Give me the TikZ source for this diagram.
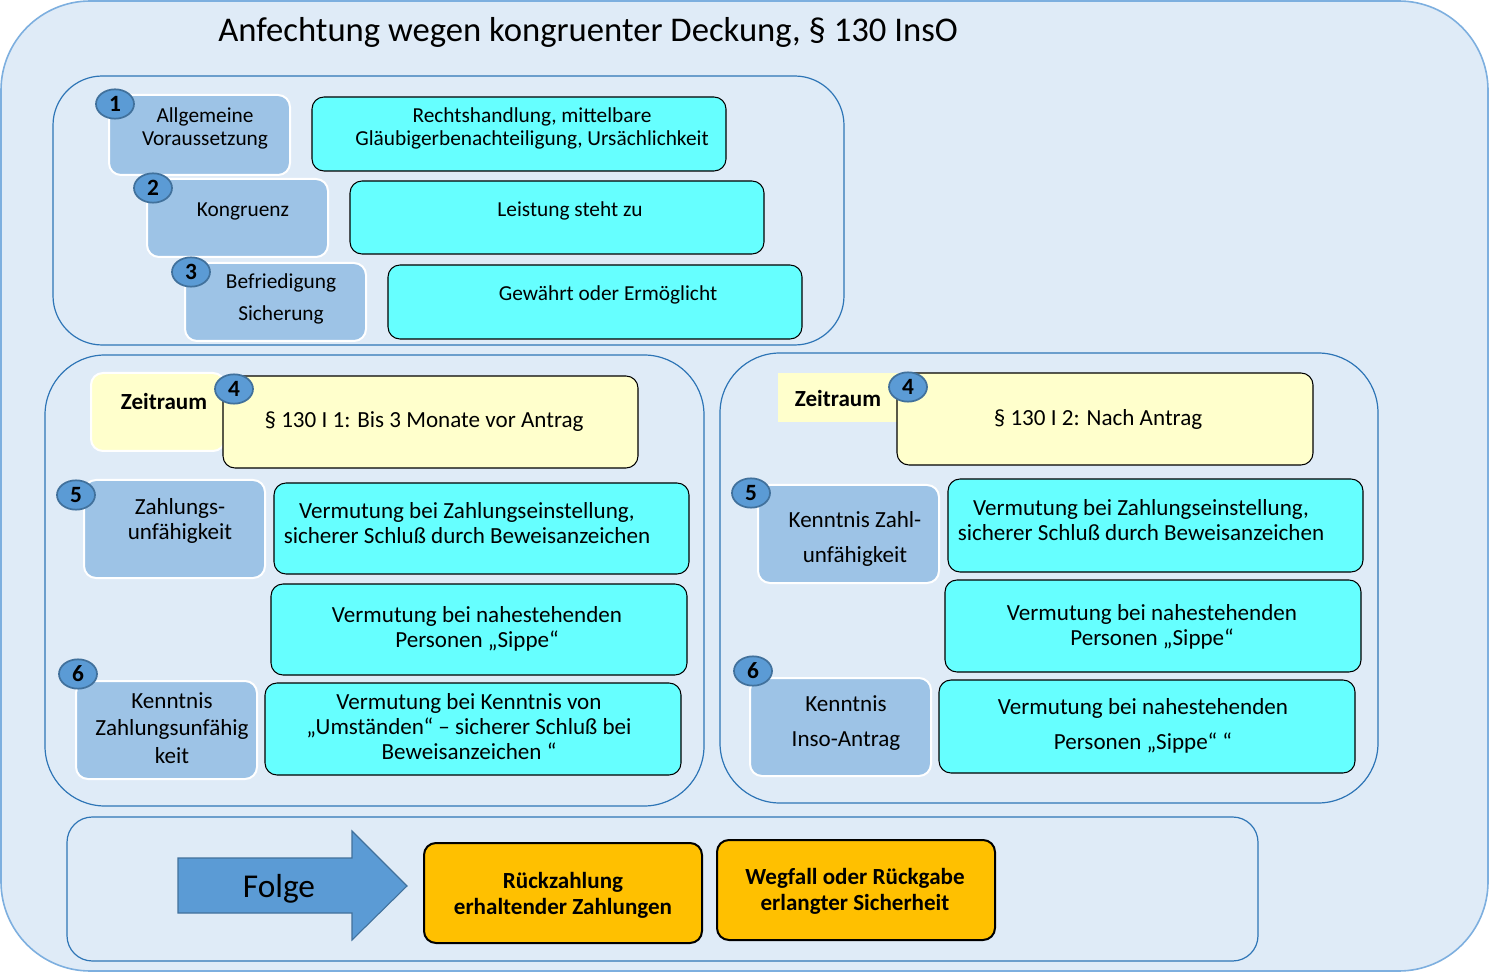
\documentclass[tikz,border=0pt]{standalone}
\usepackage{fontspec}
\setmainfont{Carlito}
\usetikzlibrary{shapes.geometric,fit}
\definecolor{bgc}{HTML}{DFEBF7}
\definecolor{outerline}{HTML}{7DAFDF}
\definecolor{panelline}{HTML}{2E75B6}
\definecolor{gboxc}{HTML}{9DC3E6}
\definecolor{cyanc}{HTML}{66FFFF}
\definecolor{yellowc}{HTML}{FFFFCC}
\definecolor{numc}{HTML}{5B9BD5}
\definecolor{numline}{HTML}{41719C}
\definecolor{orangec}{HTML}{FFC000}
\tikzset{
  outerbg/.style={fill=bgc,draw=outerline,line width=1.2pt,rounded corners=67pt},
  panel/.style={draw=panelline,line width=0.9pt,inner sep=0pt,outer sep=0pt},
  gbox/.style={fill=gboxc,draw=white,line width=1.5pt,rounded corners=9pt,inner sep=0pt},
  cbox/.style={fill=cyanc,draw=black,line width=0.8pt,rounded corners=9pt,inner sep=0pt},
  ybox/.style={fill=yellowc,draw=black,line width=0.8pt,rounded corners=9pt,inner sep=0pt},
  zbox/.style={fill=yellowc,draw=white,line width=1.5pt,rounded corners=9pt,inner sep=0pt},
  zsq/.style={fill=yellowc,draw=none,inner sep=0pt},
  obox/.style={fill=orangec,draw=black,line width=1.5pt,rounded corners=9pt,inner sep=0pt},
  num/.style={ellipse,fill=numc,draw=numline,line width=1.3pt,minimum width=28.5pt,minimum height=22pt,inner sep=0pt,font=\fontsize{17.5}{17.5}\bfseries\selectfont},
  txtu/.style={align=center,inner sep=0pt,font=\fontsize{16}{17.3}\selectfont},
  txtl/.style={align=center,inner sep=0pt,font=\fontsize{17.3}{18.8}\selectfont},
  txtb/.style={align=center,inner sep=0pt,font=\fontsize{17.3}{19.5}\bfseries\selectfont},
  arrowc/.style={fill=numc,draw=numline,line width=0.8pt},
}
\begin{document}
\begin{tikzpicture}[x=0.75pt,y=-0.75pt]
\useasboundingbox (0,0) rectangle (1489,973);
% outer background
\node[outerbg,fit={(1,1) (1488,971)},inner sep=0pt] (outer) {};
\node[font=\fontsize{26}{28}\selectfont,inner sep=0pt] (title) at (588,32) {Anfechtung wegen kongruenter Deckung, § 130 InsO};

% panels
\node[panel,rounded corners=37pt,fit={(53,76) (844,345)}] (p1) {};
\node[panel,rounded corners=45pt,fit={(45,355) (704,806)}] (p2) {};
\node[panel,rounded corners=45pt,fit={(720,353) (1378,803)}] (p3) {};
\node[panel,rounded corners=19pt,fit={(67,817) (1258,961)}] (p4) {};

% ---- panel 1
\node[gbox,fit={(109,95) (290,175)}] (g1) {};
\node[gbox,fit={(147,179) (328,257)}] (g2) {};
\node[gbox,fit={(185,263) (366,341)}] (g3) {};
\node[txtu] (g1t) at (205,128) {Allgemeine\\Voraussetzung};
\node[txtu] (g2t) at (243,211) {Kongruenz};
\node[txtu] (g3t) at (281,299) {Befriedigung\\[6.5pt]Sicherung};
\node[cbox,fit={(312,97) (726,171)}] (c1) {};
\node[cbox,fit={(350,181) (764,254)}] (c2) {};
\node[cbox,fit={(388,265) (802,339)}] (c3) {};
\node[txtu] (c1t) at (532,128) {Rechtshandlung, mittelbare\\Gläubigerbenachteiligung, Ursächlichkeit};
\node[txtu] (c2t) at (570,211) {Leistung steht zu};
\node[txtu] (c3t) at (608,295) {Gewährt oder Ermöglicht};
\node[num] (n1) at (115,104) {1};
\node[num] (n2) at (153,188) {2};
\node[num] (n3) at (191,272) {3};

% ---- panel 2 (left)
\node[zbox,fit={(91,373) (225,451)}] (zl) {};
\node[ybox,fit={(223,376) (638,468)}] (yl) {};
\node[txtb] (zlt) at (164,401) {Zeitraum};
\node[txtl] (ylt) at (424,422) {§ 130 I 1: Bis 3 Monate vor Antrag};
\node[num] (n4l) at (234,389) {4};
\node[gbox,fit={(84,480) (265,578)}] (g5l) {};
\node[txtl] (g5lt) at (180,521) {Zahlungs-\\unfähigkeit};
\node[cbox,fit={(274,483) (689,574)}] (c5l) {};
\node[txtl] (c5lt) at (467,523) {Vermutung bei Zahlungseinstellung,\\sicherer Schluß durch Beweisanzeichen};
\node[cbox,fit={(271,584) (687,675)}] (c5l2) {};
\node[txtl] (c5l2t) at (477,629) {Vermutung bei nahestehenden\\Personen „Sippe“};
\node[num] (n5l) at (76,495) {5};
\node[gbox,fit={(76,681) (257,779)}] (g6l) {};
\node[txtl,font=\fontsize{17.3}{20.5}\selectfont] (g6lt) at (172,728) {Kenntnis\\Zahlungsunfähig\\keit};
\node[cbox,fit={(265,683) (681,775)}] (c6l) {};
\node[txtl] (c6lt) at (469,727) {Vermutung bei Kenntnis von\\„Umständen“ – sicherer Schluß bei\\Beweisanzeichen “};
\node[num] (n6l) at (78,674) {6};

% ---- panel 3 (right)
\node[zsq,fit={(778,373) (900,422)}] (zr) {};
\node[ybox,fit={(897,373) (1313,465)}] (yr) {};
\node[txtb] (zrt) at (838,398) {Zeitraum};
\node[txtl] (yrt) at (1098,419) {§ 130 I 2: Nach Antrag};
\node[num] (n4r) at (908,387) {4};
\node[gbox,fit={(758,485) (939,583)}] (g5r) {};
\node[txtl] (g5rt) at (855,539) {Kenntnis Zahl-\\[7.5pt]unfähigkeit};
\node[cbox,fit={(948,479) (1363,572)}] (c5r) {};
\node[txtl] (c5rt) at (1141,520) {Vermutung bei Zahlungseinstellung,\\sicherer Schluß durch Beweisanzeichen};
\node[cbox,fit={(945,580) (1361,672)}] (c5r2) {};
\node[txtl] (c5r2t) at (1152,627) {Vermutung bei nahestehenden\\Personen „Sippe“};
\node[num] (n5r) at (751,493) {5};
\node[gbox,fit={(750,678) (931,776)}] (g6r) {};
\node[txtl] (g6rt) at (846,723) {Kenntnis\\[7.5pt]Inso-Antrag};
\node[cbox,fit={(939,680) (1355,773)}] (c6r) {};
\node[txtl] (c6rt) at (1143,726) {Vermutung bei nahestehenden\\[7.5pt]Personen „Sippe“ “};
\node[num] (n6r) at (753,671) {6};

% ---- panel 4 (bottom)
\draw[arrowc] (178,858) -- (352,858) -- (352,831) -- (407,886) -- (352,940) -- (352,913) -- (178,913) -- cycle;
\node[inner sep=0pt,font=\fontsize{25}{27}\selectfont] (folge) at (279,889) {Folge};
\node[obox,fit={(424,843) (702,943)}] (o1) {};
\node[txtb] (o1t) at (563,895) {Rückzahlung\\erhaltender Zahlungen};
\node[obox,fit={(717,840) (995,940)}] (o2) {};
\node[txtb] (o2t) at (855,891) {Wegfall oder Rückgabe\\erlangter Sicherheit};
\end{tikzpicture}
\end{document}
